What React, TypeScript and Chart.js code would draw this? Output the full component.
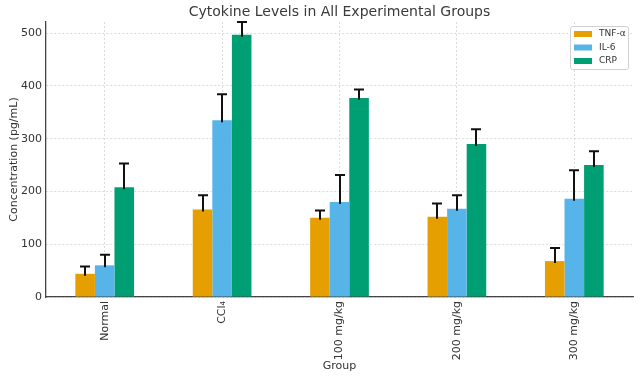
import React, { useEffect, useRef } from "react";
import { Chart, registerables } from "chart.js";

Chart.register(...registerables);

const groups = ["Normal", "CCl\u2084", "100 mg/kg", "200 mg/kg", "300 mg/kg"];
const seriesNames = ["TNF-\u03b1", "IL-6", "CRP"];
const tnf = [44, 166, 150, 152, 68];
const tnfErr = [14, 27, 14, 25, 25];
const il6 = [60, 335, 180, 167, 186];
const il6Err = [20, 49, 51, 26, 54];
const crp = [208, 497, 377, 290, 250];
const crpErr = [45, 24, 16, 28, 26];
const yTicks = [0, 100, 200, 300, 400, 500];
const colors = ["#E69F00", "#56B4E9", "#009E73"];

const FONT = "'DejaVu Sans', sans-serif";

export default function App() {
  const ref = useRef<HTMLCanvasElement | null>(null);
  useEffect(() => {
    document.body.style.margin = "0";
    const errs = [tnfErr, il6Err, crpErr];
    const errorBars = {
      id: "errorBars",
      afterDatasetsDraw(chart: any) {
        const ctx = chart.ctx;
        const ys = chart.scales.y;
        ctx.save();
        ctx.strokeStyle = "#111";
        ctx.lineWidth = 2;
        chart.data.datasets.forEach((ds: any, di: number) => {
          const meta = chart.getDatasetMeta(di);
          meta.data.forEach((el: any, i: number) => {
            const v = ds.data[i];
            const top = ys.getPixelForValue(v + errs[di][i]);
            const x = Math.round(el.x);
            ctx.beginPath();
            ctx.moveTo(x, el.y + 2);
            ctx.lineTo(x, top);
            ctx.moveTo(x - 5, top);
            ctx.lineTo(x + 5, top);
            ctx.stroke();
          });
        });
        ctx.restore();
      },
    };
    const legendAndTitle = {
      id: "legendAndTitle",
      afterDraw(chart: any) {
        const ctx = chart.ctx;
        const ca = chart.chartArea;
        ctx.save();
        // title
        ctx.fillStyle = "#3a3a3a";
        ctx.font = `14px ${FONT}`;
        ctx.textAlign = "center";
        ctx.textBaseline = "middle";
        ctx.fillText("Cytokine Levels in All Experimental Groups", (ca.left + ca.right) / 2, 12);
        // legend
        const bx = 570.5, by = 26.5, bw = 58, bh = 43;
        ctx.fillStyle = "rgba(255,255,255,0.85)";
        ctx.strokeStyle = "#d0d0d0";
        ctx.lineWidth = 1;
        ctx.beginPath();
        (ctx as any).roundRect(bx, by, bw, bh, 2);
        ctx.fill();
        ctx.stroke();
        ctx.font = `9px ${FONT}`;
        ctx.textAlign = "left";
        ctx.textBaseline = "middle";
        seriesNames.forEach((name, i) => {
          const cy = 34 + i * 13.5;
          ctx.fillStyle = colors[i];
          ctx.fillRect(574, cy - 3, 18, 6);
          ctx.fillStyle = "#333";
          ctx.fillText(name, 599, cy);
        });
        ctx.restore();
      },
    };
    const values = [tnf, il6, crp];
    const chart = new Chart(ref.current as HTMLCanvasElement, {
      type: "bar",
      data: {
        labels: groups,
        datasets: seriesNames.map((n, i) => ({
          label: n,
          data: values[i],
          backgroundColor: colors[i],
          borderWidth: 0,
          barPercentage: 1,
          categoryPercentage: 0.5,
        })),
      },
      options: {
        animation: false,
        responsive: false,
        layout: { padding: { top: 22, right: 7, left: 0, bottom: 0 } },
        plugins: {
          legend: { display: false },
          title: { display: false },
          tooltip: { enabled: false },
        },
        scales: {
          x: {
            grid: {
              offset: false,
              color: "#dcdcdc",
              drawTicks: false,
            },
            border: { display: true, color: "#444", width: 1.3, dash: [2, 2] },
            ticks: {
              color: "#333",
              font: { family: FONT, size: 11 },
              maxRotation: 90,
              minRotation: 90,
              padding: 4,
            },
            title: {
              display: true,
              text: "Group",
              color: "#333",
              font: { family: FONT, size: 11 },
              padding: { top: 0, bottom: 6 },
            },
            afterFit(scale: any) {
              scale.height = 82;
            },
          },
          y: {
            min: 0,
            max: 521,
            grid: { color: "#dcdcdc", drawTicks: false },
            border: { display: true, color: "#444", width: 1.3, dash: [2, 2] },
            afterBuildTicks(scale: any) {
              scale.ticks = yTicks.map((v) => ({ value: v }));
            },
            ticks: {
              color: "#333",
              font: { family: FONT, size: 11 },
              padding: 4,
            },
            title: {
              display: true,
              text: "Concentration (pg/mL)",
              color: "#333",
              font: { family: FONT, size: 11 },
              padding: { top: 8, bottom: 0 },
            },
            afterFit(scale: any) {
              scale.width = 46;
            },
          },
        },
      },
      plugins: [errorBars, legendAndTitle],
    });
    return () => chart.destroy();
  }, []);
  return (
    <div style={{ position: "absolute", left: 0, top: 0, width: 640, height: 379 }}>
      <canvas ref={ref} width={640} height={379} />
    </div>
  );
}
